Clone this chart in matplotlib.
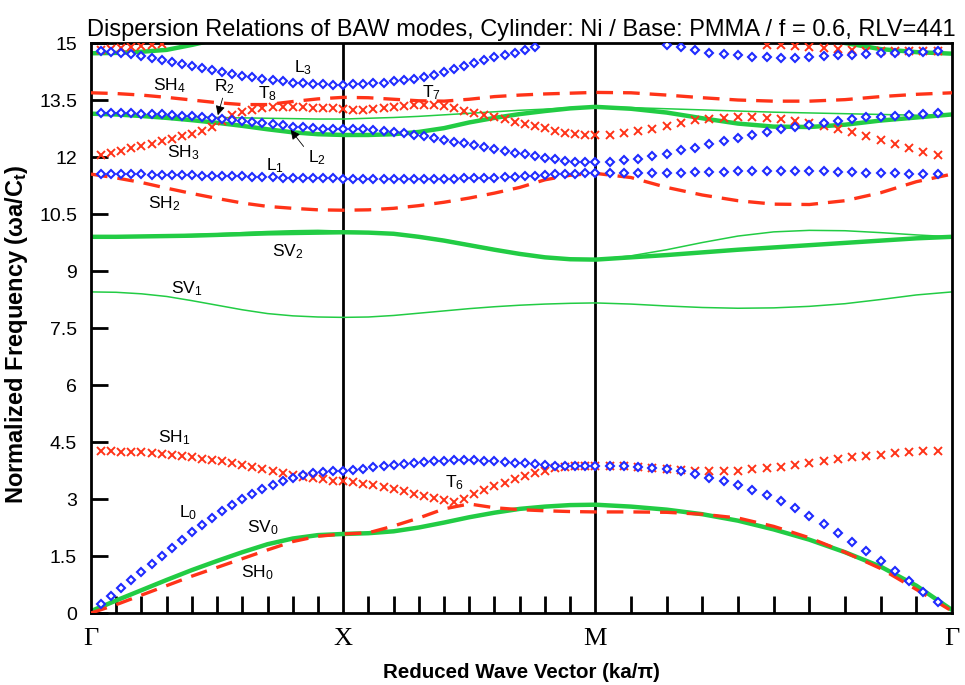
import numpy as np
import matplotlib
matplotlib.use("Agg")
import matplotlib.pyplot as plt

plt.rcParams['font.family'] = ['Liberation Sans', 'DejaVu Sans']
plt.rcParams['mathtext.fontset'] = 'custom'
plt.rcParams['mathtext.rm'] = 'Liberation Sans'
plt.rcParams['mathtext.it'] = 'Liberation Sans'
plt.rcParams['mathtext.bf'] = 'Liberation Sans:bold'

# k-points of the computed modes (Gamma itself left out of the markers)
k_gx = np.arange(1, 26) / 25
k_xm = 1 + np.arange(1, 26) / 25
k_mg = 2 + np.sqrt(2) * np.arange(1, 25) / 25
k_pts = np.concatenate([k_gx, k_xm, k_mg])
# k-points used for the line branches (tenths of each segment)
k_line = np.concatenate([np.arange(0, 11) / 10,
                         1 + np.arange(1, 11) / 10,
                         2 + np.sqrt(2) * np.arange(1, 11) / 10])

nan = np.nan

# ---- L modes (blue diamonds) ----
L0 = ([0.24, 0.44, 0.65, 0.86, 1.08, 1.30, 1.51, 1.72, 1.92, 2.12, 2.32, 2.50, 2.68,
       2.85, 3.00, 3.14, 3.27, 3.38, 3.48, 3.56, 3.63, 3.68, 3.72, 3.74, 3.75]
      + [3.76, 3.79, 3.83, 3.87, 3.90, 3.93, 3.96, 3.98, 4.00, 4.01, 4.02, 4.03, 4.02,
         4.01, 4.00, 3.98, 3.96, 3.95, 3.93, 3.90, 3.88, 3.87, 3.87, 3.87, 3.87]
      + [3.87, 3.87, 3.84, 3.82, 3.79, 3.74, 3.65, 3.56, 3.48, 3.36, 3.25, 3.10,
         2.94, 2.76, 2.56, 2.34, 2.11, 1.88, 1.62, 1.36, 1.11, 0.83, 0.55, 0.28])
L1 = ([11.54, 11.54, 11.54, 11.54, 11.54, 11.53, 11.53, 11.53, 11.52, 11.52, 11.51, 11.51,
       11.50, 11.50, 11.49, 11.48, 11.48, 11.47, 11.46, 11.46, 11.45, 11.45, 11.44, 11.44, 11.43]
      + [11.42, 11.42, 11.42, 11.42, 11.42, 11.42, 11.42, 11.42, 11.43, 11.43, 11.43, 11.44,
         11.44, 11.45, 11.46, 11.47, 11.48, 11.49, 11.51, 11.52, 11.54, 11.55, 11.56, 11.57, 11.58]
      + [11.57, 11.57, 11.57, 11.58, 11.58, 11.59, 11.60, 11.61, 11.61, 11.62, 11.62, 11.63,
         11.63, 11.63, 11.62, 11.62, 11.61, 11.60, 11.59, 11.58, 11.57, 11.56, 11.55, 11.55])
L2 = ([13.17, 13.16, 13.16, 13.15, 13.14, 13.13, 13.12, 13.11, 13.09, 13.07, 13.05, 13.02,
       13.00, 12.97, 12.94, 12.92, 12.89, 12.86, 12.83, 12.80, 12.78, 12.76, 12.75, 12.74, 12.73]
      + [12.74, 12.73, 12.71, 12.69, 12.65, 12.62, 12.58, 12.54, 12.49, 12.45, 12.40, 12.36,
         12.31, 12.26, 12.21, 12.17, 12.11, 12.07, 12.02, 11.98, 11.94, 11.90, 11.88, 11.87, 11.87]
      + [11.88, 11.92, 11.96, 12.03, 12.09, 12.18, 12.25, 12.34, 12.43, 12.51, 12.58, 12.67,
         12.73, 12.78, 12.84, 12.90, 12.95, 12.99, 13.04, 13.06, 13.09, 13.11, 13.13, 13.15])
L3 = ([14.80, 14.77, 14.74, 14.70, 14.65, 14.60, 14.55, 14.50, 14.45, 14.40, 14.35, 14.30,
       14.24, 14.19, 14.14, 14.10, 14.06, 14.02, 13.99, 13.96, 13.94, 13.92, 13.91, 13.90, 13.90]
      + [13.92, 13.93, 13.95, 13.96, 13.99, 14.02, 14.05, 14.10, 14.17, 14.25, 14.31, 14.40,
         14.47, 14.54, 14.62, 14.68, 14.75, 14.82, 14.90, nan, nan, nan, nan, nan, nan]
      + [nan, nan, nan, nan, 14.95, 14.89, 14.82, 14.75, 14.71, 14.68, 14.64, 14.62,
         14.61, 14.61, 14.64, 14.66, 14.68, 14.69, 14.71, 14.73, 14.74, 14.76, 14.77, 14.78])

# ---- T modes (red crosses) ----
T_low = ([4.27, 4.26, 4.25, 4.25, 4.23, 4.21, 4.18, 4.16, 4.13, 4.10, 4.06, 4.03, 3.99,
          3.95, 3.90, 3.85, 3.80, 3.75, 3.68, 3.63, 3.59, 3.55, 3.52, 3.48, 3.47]
         + [3.44, 3.40, 3.36, 3.31, 3.26, 3.20, 3.14, 3.08, 3.03, 2.97, 2.92, 3.01, 3.13,
            3.23, 3.33, 3.43, 3.53, 3.60, 3.68, 3.75, 3.82, 3.85, 3.87, 3.88, 3.88]
         + [3.87, 3.87, 3.84, 3.82, 3.78, 3.76, 3.75, 3.74, 3.74, 3.75, 3.78, 3.81,
            3.85, 3.89, 3.95, 4.00, 4.04, 4.10, 4.13, 4.17, 4.21, 4.24, 4.26, 4.27])
T_mid = ([12.05, 12.11, 12.17, 12.23, 12.29, 12.35, 12.41, 12.47, 12.54, 12.61, 12.69, 12.80,
          12.94, 13.10, 13.18, 13.24, 13.28, 13.31, 13.32, 13.32, 13.31, 13.30, 13.29, 13.28, 13.27]
         + [13.25, 13.25, 13.26, 13.28, 13.32, 13.35, 13.36, 13.37, 13.36, 13.34, 13.28, 13.22,
            13.17, 13.11, 13.05, 13.00, 12.93, 12.87, 12.82, 12.76, 12.69, 12.64, 12.60, 12.58, 12.58]
         + [12.58, 12.62, 12.69, 12.75, 12.82, 12.90, 12.97, 13.00, 13.03, 13.04, 13.04, 13.03,
            13.00, 12.95, 12.90, 12.82, 12.75, 12.67, 12.55, 12.46, 12.34, 12.23, 12.14, 12.05])
T_top = ([14.82, 14.84, 14.87, 14.89, 14.92, 14.95, 14.98] + [nan] * 18
         + [nan] * 25
         + [nan] * 11 + [14.95, 14.94, 14.91, 14.90, 14.87, 14.85, 14.82, 14.80, 14.79,
                         14.78, 14.78, 14.78, 14.78])

# ---- SH modes (red dashed) ----
SH0 = ([0.0, 0.22, 0.47, 0.72, 0.97, 1.20, 1.43, 1.66, 1.88, 2.02, 2.08]
       + [2.11, 2.29, 2.50, 2.74, 2.87, 2.77, 2.72, 2.69, 2.67, 2.66]
       + [2.66, 2.65, 2.60, 2.50, 2.28, 1.98, 1.60, 1.17, 0.62, 0.05])
SH2 = ([11.55, 11.45, 11.33, 11.18, 11.04, 10.91, 10.79, 10.70, 10.65, 10.61, 10.60]
       + [10.61, 10.65, 10.72, 10.81, 10.92, 11.05, 11.20, 11.40, 11.52, 11.57]
       + [11.46, 11.20, 11.00, 10.85, 10.76, 10.75, 10.85, 11.06, 11.35, 11.55])
SH4 = ([13.69, 13.67, 13.63, 13.57, 13.50, 13.43, 13.38, 13.38, 13.46, 13.53, 13.57]
       + [13.56, 13.52, 13.48, 13.47, 13.52, 13.59, 13.63, 13.66, 13.68, 13.70]
       + [13.69, 13.63, 13.56, 13.50, 13.47, 13.47, 13.51, 13.59, 13.65, 13.69])

# ---- SV modes (green) ----
SV0 = ([0.05, 0.33, 0.60, 0.87, 1.13, 1.37, 1.60, 1.81, 1.96, 2.05, 2.08]
       + [2.10, 2.15, 2.25, 2.38, 2.52, 2.64, 2.74, 2.80, 2.84, 2.85]
       + [2.80, 2.72, 2.60, 2.43, 2.20, 1.93, 1.60, 1.22, 0.72, 0.08])
SV1 = ([8.45, 8.44, 8.40, 8.33, 8.22, 8.10, 7.98, 7.88, 7.82, 7.79, 7.78]
       + [7.79, 7.83, 7.89, 7.95, 8.01, 8.06, 8.10, 8.13, 8.15, 8.16]
       + [8.13, 8.08, 8.04, 8.02, 8.03, 8.07, 8.14, 8.25, 8.37, 8.45])
SV2 = ([9.90, 9.90, 9.91, 9.92, 9.93, 9.95, 9.97, 9.99, 10.00, 10.01, 10.02]
       + [10.01, 9.98, 9.90, 9.80, 9.68, 9.56, 9.45, 9.36, 9.31, 9.30]
       + [9.36, 9.42, 9.49, 9.56, 9.62, 9.68, 9.74, 9.80, 9.86, 9.90])
SV2b = ([9.90, 9.91, 9.92, 9.94, 9.96, 9.98, 10.01, 10.04, 10.06, 10.07, 10.05]
        + [10.03, 9.99, 9.92, 9.82, 9.70, 9.58, 9.46, 9.37, 9.31, 9.30]
        + [9.40, 9.56, 9.75, 9.92, 10.03, 10.07, 10.06, 10.01, 9.95, 9.90])
SV3 = ([13.14, 13.12, 13.08, 13.03, 12.97, 12.90, 12.82, 12.73, 12.65, 12.60, 12.58]
       + [12.58, 12.60, 12.66, 12.76, 12.91, 13.03, 13.13, 13.21, 13.28, 13.32]
       + [13.27, 13.17, 13.02, 12.88, 12.80, 12.79, 12.85, 12.96, 13.04, 13.12])
SV3b = ([13.14, 13.13, 13.11, 13.08, 13.06, 13.04, 13.03, 13.02, 13.01, 13.00, 13.00]
        + [13.02, 13.04, 13.07, 13.11, 13.15, 13.19, 13.23, 13.26, 13.30, 13.33]
        + [13.30, 13.27, 13.24, 13.21, 13.18, 13.16, 13.14, 13.12, 13.10, 13.10])
SV4 = ([14.73, 14.74, 14.77, 14.82, 14.95, 15.10, nan, nan, nan, nan, nan]
       + [nan] * 10
       + [nan, nan, nan, nan, nan, 15.15, 15.00, 14.84, 14.76, 14.72])

# mode labels: (text, k, frequency)
labels = [("L$_3$", 0.84, 14.34), ("SH$_4$", 0.31, 13.88), ("R$_2$", 0.53, 13.84),
          ("T$_8$", 0.70, 13.66), ("T$_7$", 1.35, 13.70), ("SH$_3$", 0.365, 12.12),
          ("L$_2$", 0.895, 11.98), ("L$_1$", 0.73, 11.76), ("SH$_2$", 0.29, 10.76),
          ("SV$_2$", 0.78, 9.52), ("SV$_1$", 0.38, 8.54), ("SH$_1$", 0.33, 4.62),
          ("L$_0$", 0.385, 2.63), ("SV$_0$", 0.68, 2.25), ("SH$_0$", 0.66, 1.07),
          ("T$_6$", 1.44, 3.42)]

sym_ticks = [0, 1, 2, 2 + np.sqrt(2)]
sym_names = ["Γ", "X", "M", "Γ"]

blue = '#1f2bff'
red = '#ff3318'
green = '#22cc44'

fig = plt.figure(figsize=(9.65, 6.85), dpi=100)
ax = fig.add_axes([0.0943, 0.1051, 0.8922, 0.8321])

for k in sym_ticks[1:3]:
    ax.axvline(k, color='black', lw=2, zorder=1)

for band, lw in [(SV1, 1.1), (SV2b, 1.1), (SV3b, 1.1), (SV0, 3.2), (SV2, 3.2), (SV3, 3.2), (SV4, 3.2)]:
    ax.plot(k_line, band, color=green, lw=lw, solid_capstyle='butt', zorder=2)
for band in [SH0, SH2, SH4]:
    ax.plot(k_line, band, color=red, lw=2.4, dashes=(5, 3), zorder=3)
for band in [T_low, T_mid, T_top]:
    ax.plot(k_pts, band, ls='none', marker='x', ms=6.2, mew=1.4, color=red, zorder=4)
for band in [L0, L1, L2, L3]:
    ax.plot(k_pts, band, ls='none', marker='D', ms=4.3, mew=1.5, mfc='white', mec=blue, zorder=5)

for txt, k, f in labels:
    ax.text(k, f, txt, fontsize=12.5, ha='center', va='center', zorder=6)

ax.annotate("", xy=(0.50, 13.03), xytext=(0.525, 13.62),
            arrowprops=dict(arrowstyle='-|>', color='black', lw=0.6, mutation_scale=14), zorder=6)
ax.annotate("", xy=(0.785, 12.77), xytext=(0.85, 12.22),
            arrowprops=dict(arrowstyle='-|>', color='black', lw=0.6, mutation_scale=14), zorder=6)

ax.set_xlim(0, 2 + np.sqrt(2))
ax.set_ylim(0, 15)
ax.set_yticks(np.arange(0, 15.1, 1.5))
ax.set_yticklabels([f"{v:g}" for v in np.arange(0, 15.1, 1.5)])
ax.set_xticks(sym_ticks)
ax.set_xticklabels(sym_names, fontsize=19, family=['Liberation Serif', 'DejaVu Serif'])
minor = np.concatenate([np.arange(1, 10) / 10, 1 + np.arange(1, 10) / 10,
                        2 + np.sqrt(2) * np.arange(1, 10) / 10])
ax.set_xticks(minor, minor=True)
ax.tick_params(axis='x', which='major', length=0, pad=11)
ax.tick_params(axis='x', which='minor', direction='in', length=12, width=2)
ax.tick_params(axis='y', direction='in', length=12, width=2, labelsize=14, pad=10)
for s in ax.spines.values():
    s.set_linewidth(2)

ax.set_title("Dispersion Relations of BAW modes, Cylinder: Ni / Base: PMMA / f = 0.6, RLV=441",
             fontsize=17, pad=5)
ax.set_ylabel("Normalized Frequency (ωa/C$_\\mathbf{t}$)", fontsize=17, fontweight='bold')
ax.yaxis.set_label_coords(-0.071, 0.49)
ax.set_xlabel("Reduced Wave Vector (ka/π)", fontsize=14.8, fontweight='bold', labelpad=9)

fig.savefig("out.png", dpi=100)
